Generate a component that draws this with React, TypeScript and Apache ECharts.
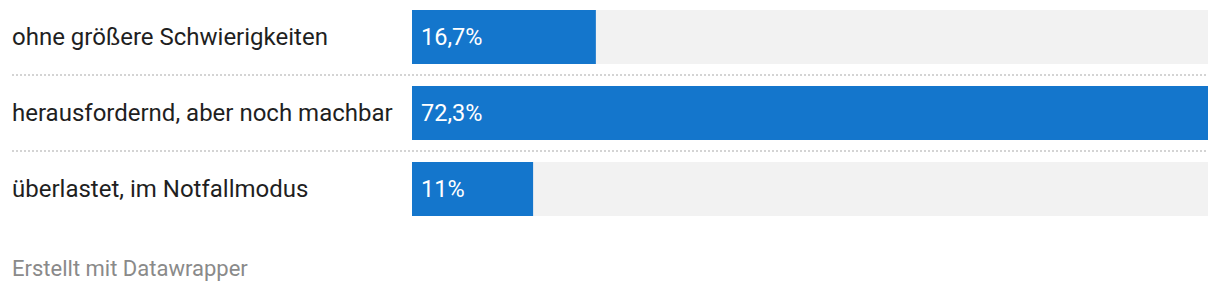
import React, { useEffect, useRef } from "react";
import * as echarts from "echarts";

const categories = [
  "ohne größere Schwierigkeiten",
  "herausfordernd, aber noch machbar",
  "überlastet, im Notfallmodus",
];
const values = [16.7, 72.3, 11];
const footerText = "Erstellt mit Datawrapper";

const FONT = "Roboto, 'Noto Sans', sans-serif";

export default function App() {
  const ref = useRef<HTMLDivElement>(null);
  useEffect(() => {
    document.body.style.margin = "0";
    if (!ref.current) return;
    const chart = echarts.init(ref.current, undefined, { renderer: "svg" });
    chart.setOption({
      animation: false,
      grid: {
        left: 412,
        right: 12,
        top: -1,
        height: 228,
        containLabel: false,
        outerBoundsMode: "none",
      },
      xAxis: { type: "value", min: 0, max: Math.max(...values), show: false },
      yAxis: {
        type: "category",
        inverse: true,
        data: categories,
        axisLine: { show: false },
        axisTick: { show: false },
        splitLine: { show: false },
        axisLabel: {
          align: "left",
          margin: 400,
          fontSize: 24,
          color: "#1f1f1f",
          fontFamily: FONT,
        },
      },
      series: [
        {
          type: "bar",
          data: values,
          barWidth: 54,
          itemStyle: { color: "#1476cc" },
          showBackground: true,
          backgroundStyle: { color: "#f2f2f2" },
          label: {
            show: true,
            position: "insideLeft",
            distance: 9,
            color: "#ffffff",
            fontSize: 23.5,
            fontFamily: FONT,
            formatter: (p: any) => String(p.value).replace(".", ",") + "%",
          },
        },
      ],
    });
    const centers = categories.map(
      (_, i) => chart.convertToPixel({ yAxisIndex: 0 }, i) as number
    );
    const lines: any[] = [];
    for (let i = 0; i < centers.length - 1; i++) {
      const y = Math.round((centers[i] + centers[i + 1]) / 2);
      lines.push({
        type: "line",
        shape: { x1: 12, y1: y, x2: 1208, y2: y },
        style: { stroke: "#d4d4d4", lineWidth: 2, lineDash: [2, 2] },
      });
    }
    lines.push({
      type: "text",
      x: 12,
      y: 268,
      style: {
        text: footerText,
        fontSize: 22,
        fill: "#8a8a8a",
        fontFamily: FONT,
        textVerticalAlign: "middle",
        verticalAlign: "middle",
      },
    });
    chart.setOption({ graphic: lines });
    return () => chart.dispose();
  }, []);
  return <div ref={ref} style={{ width: 1220, height: 292 }} />;
}
